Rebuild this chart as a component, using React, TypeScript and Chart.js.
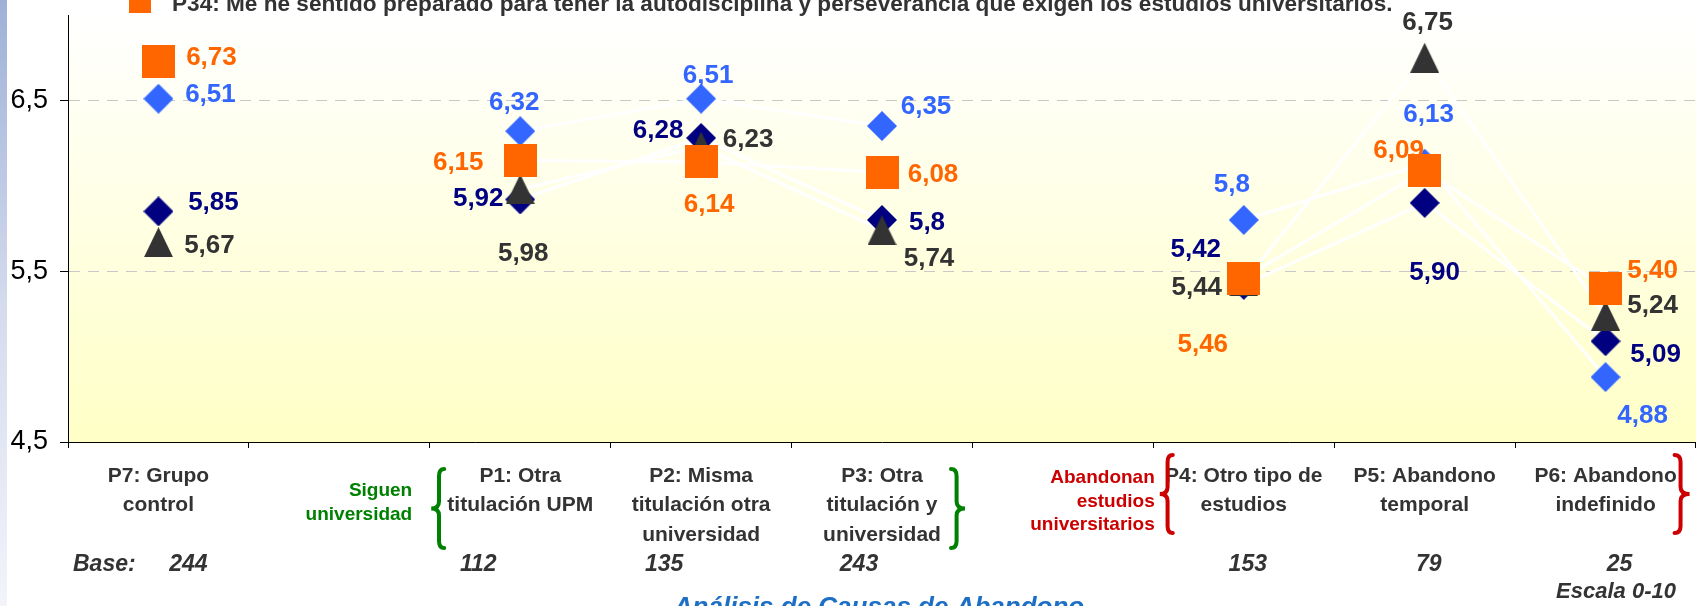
import React, { useEffect, useRef } from 'react';
import { Chart, registerables } from 'chart.js';

Chart.register(...registerables);

const FONT = '"Liberation Sans", Arial, sans-serif';

// ---------------- data ----------------
const categories: string[][] = [
  ['P7: Grupo', 'control'],
  [''],
  ['P1: Otra', 'titulación UPM'],
  ['P2: Misma', 'titulación otra', 'universidad'],
  ['P3: Otra', 'titulación y', 'universidad'],
  [''],
  ['P4: Otro tipo de', 'estudios'],
  ['P5: Abandono', 'temporal'],
  ['P6: Abandono', 'indefinido'],
];
const baseLabel = 'Base:';
const baseCounts = ['244', '', '112', '135', '243', '', '153', '79', '25'];
const yTickValues = [4.5, 5.5, 6.5];

const valuesBlue = [6.51, null, 6.32, 6.51, 6.35, null, 5.8, 6.13, 4.88];
const valuesNavy = [5.85, null, 5.92, 6.28, 5.8, null, 5.42, 5.9, 5.09];
const valuesGray = [5.67, null, 5.98, 6.23, 5.74, null, 5.44, 6.75, 5.24];
const valuesOrange = [6.73, null, 6.15, 6.14, 6.08, null, 5.46, 6.09, 5.4];

const textBlue = ['6,51', '', '6,32', '6,51', '6,35', '', '5,8', '6,13', '4,88'];
const textNavy = ['5,85', '', '5,92', '6,28', '5,8', '', '5,42', '5,90', '5,09'];
const textGray = ['5,67', '', '5,98', '6,23', '5,74', '', '5,44', '6,75', '5,24'];
const textOrange = ['6,73', '', '6,15', '6,14', '6,08', '', '5,46', '6,09', '5,40'];

const legendText =
  'P34: Me he sentido preparado para tener la autodisciplina y perseverancia que exigen los estudios universitarios.';
const titleText = 'Análisis de Causas de Abandono';
const scaleNote = 'Escala 0-10';
const groupSiguen = ['Siguen', 'universidad'];
const groupAbandonan = ['Abandonan', 'estudios', 'universitarios'];

// ---------------- layout (label offsets relative to each point) ----------------
const offsBlue = [[52, -6], null, [-6, -30], [7, -25], [44, -21], null, [-12, -37], [4, -51], [37, 37]];
const offsNavy = [[55, -11], null, [-42, -3], [-43, -9], [45, 1], null, [-48, -37], [10, 68], [50, 11]];
const offsGray = [[51, 2], null, [3, 62], [47, -9], [47, 26], null, [-47, 4], [3, -37], [47, -12]];
const offsOrange = [[53, -5], null, [-62, 1], [8, 41], [51, 1], null, [-41, 65], [-26, -22], [47, -20]];
const baseOffsets = [30, 0, -42, -37, -23, 0, 4, 4, 14];

const series = [
  { values: valuesOrange, texts: textOrange, offs: offsOrange, color: '#FF6600', shape: 'square', w: 33, h: 33, order: 1 },
  { values: valuesGray, texts: textGray, offs: offsGray, color: '#333333', shape: 'triangle', w: 29, h: 30, order: 2 },
  { values: valuesNavy, texts: textNavy, offs: offsNavy, color: '#000080', shape: 'diamond', w: 30, h: 30, order: 3 },
  { values: valuesBlue, texts: textBlue, offs: offsBlue, color: '#3366FF', shape: 'diamond', w: 30, h: 30, order: 4 },
];

function makeMarker(shape: string, color: string, w: number, h: number) {
  const c = document.createElement('canvas');
  c.width = w;
  c.height = h;
  const ctx = c.getContext('2d')!;
  ctx.fillStyle = color;
  ctx.beginPath();
  if (shape === 'square') {
    ctx.rect(0, 0, w, h);
  } else if (shape === 'diamond') {
    ctx.moveTo(w / 2, 0);
    ctx.lineTo(w, h / 2);
    ctx.lineTo(w / 2, h);
    ctx.lineTo(0, h / 2);
    ctx.closePath();
  } else {
    ctx.moveTo(w / 2, 0);
    ctx.lineTo(w, h);
    ctx.lineTo(0, h);
    ctx.closePath();
  }
  ctx.fill();
  return c;
}

function drawBrace(ctx: CanvasRenderingContext2D, xTip: number, xOuter: number, y0: number, y1: number, color: string) {
  const xm = xTip + (xOuter - xTip) * 0.6;
  const ym = (y0 + y1) / 2;
  const r = 7;
  ctx.save();
  ctx.strokeStyle = color;
  ctx.lineWidth = 4;
  ctx.lineCap = 'round';
  ctx.beginPath();
  ctx.moveTo(xOuter, y0);
  ctx.quadraticCurveTo(xm, y0, xm, y0 + r);
  ctx.lineTo(xm, ym - r);
  ctx.quadraticCurveTo(xm, ym, xTip, ym);
  ctx.quadraticCurveTo(xm, ym, xm, ym + r);
  ctx.lineTo(xm, y1 - r);
  ctx.quadraticCurveTo(xm, y1, xOuter, y1);
  ctx.stroke();
  ctx.restore();
}

const bgPlugin = {
  id: 'bg',
  beforeDraw(chart: any) {
    const { ctx, chartArea: a, width, height } = chart;
    ctx.save();
    ctx.fillStyle = '#FFFFFF';
    ctx.fillRect(0, 0, width, height);
    const s = ctx.createLinearGradient(0, 0, 0, height);
    s.addColorStop(0, '#9DB1D7');
    s.addColorStop(0.5, '#D3DBEC');
    s.addColorStop(1, '#F2F4FA');
    ctx.fillStyle = s;
    ctx.fillRect(0, 0, 7, height);
    const g = ctx.createLinearGradient(0, a.top, 0, a.bottom);
    g.addColorStop(0, '#FFFFFF');
    g.addColorStop(1, '#FFFFC6');
    ctx.fillStyle = g;
    ctx.fillRect(a.left, a.top, a.right - a.left, a.bottom - a.top);
    ctx.restore();
  },
};

const labelPlugin = {
  id: 'pointLabels',
  afterDatasetsDraw(chart: any) {
    const ctx = chart.ctx;
    ctx.save();
    ctx.font = `bold 26px ${FONT}`;
    ctx.textAlign = 'center';
    ctx.textBaseline = 'alphabetic';
    series.forEach((s, k) => {
      const meta = chart.getDatasetMeta(series.length + k);
      s.values.forEach((v, j) => {
        const o = s.offs[j];
        if (v === null || !o) return;
        const pt = meta.data[j];
        ctx.fillStyle = s.color;
        ctx.fillText(s.texts[j], pt.x + o[0], pt.y + o[1] + 9.3);
      });
    });
    ctx.restore();
  },
};

const decoPlugin = {
  id: 'deco',
  afterDraw(chart: any) {
    const ctx = chart.ctx;
    const xs = chart.scales.x;
    const cx = (i: number) => xs.getPixelForValue(i);
    ctx.save();

    // legend line (cut at top)
    ctx.fillStyle = '#FF6600';
    ctx.fillRect(129, -9, 22, 22);
    ctx.fillStyle = '#333333';
    ctx.font = `bold 22.6px ${FONT}`;
    ctx.textAlign = 'left';
    ctx.textBaseline = 'alphabetic';
    ctx.fillText(legendText, 172, 11);

    // group labels
    ctx.font = `bold 19px ${FONT}`;
    ctx.textAlign = 'right';
    ctx.textBaseline = 'middle';
    ctx.fillStyle = '#008000';
    groupSiguen.forEach((t, i) => ctx.fillText(t, cx(2) - 108, 491 + i * 24));
    ctx.fillStyle = '#CC0000';
    groupAbandonan.forEach((t, i) => ctx.fillText(t, cx(6) - 89, 478 + i * 23.5));

    // braces
    drawBrace(ctx, cx(2) - 89, cx(2) - 76, 469, 548, '#008000');
    drawBrace(ctx, cx(4) + 83, cx(4) + 69, 469, 548, '#008000');
    drawBrace(ctx, cx(6) - 84, cx(6) - 71, 455, 533, '#CC0000');
    drawBrace(ctx, cx(8) + 84, cx(8) + 69, 455, 533, '#CC0000');

    // base row
    ctx.fillStyle = '#333333';
    ctx.font = `italic bold 23px ${FONT}`;
    ctx.textAlign = 'left';
    ctx.fillText(baseLabel, 73, 565);
    ctx.textAlign = 'center';
    baseCounts.forEach((t, i) => {
      if (t) ctx.fillText(t, cx(i) + baseOffsets[i], 565);
    });

    // scale note
    ctx.font = `italic bold 22px ${FONT}`;
    ctx.fillText(scaleNote, 1616, 592);

    // title (cut at bottom)
    ctx.fillStyle = '#1C6FC4';
    ctx.font = `italic bold 26px ${FONT}`;
    ctx.textBaseline = 'alphabetic';
    ctx.fillText(titleText, 879, 615);

    ctx.restore();
  },
};

export default function App() {
  const ref = useRef<HTMLCanvasElement>(null);

  useEffect(() => {
    const canvas = ref.current!;
    const lineSets = series.map((s) => ({
      data: s.values,
      borderColor: '#FFFFFF',
      borderWidth: 3,
      pointRadius: 0,
      pointHoverRadius: 0,
      fill: false,
      spanGaps: false,
      tension: 0,
      order: 10,
    }));
    const pointSets = series.map((s) => ({
      data: s.values,
      showLine: false,
      pointStyle: makeMarker(s.shape, s.color, s.w, s.h),
      pointRadius: 15,
      pointHoverRadius: 15,
      backgroundColor: s.color,
      borderColor: s.color,
      order: s.order,
    }));

    const chart = new Chart(canvas, {
      type: 'line',
      data: { labels: categories as any, datasets: [...lineSets, ...pointSets] as any },
      options: {
        responsive: false,
        animation: false,
        events: [],
        layout: { autoPadding: false, padding: { top: 15, left: 0, right: 0, bottom: 0 } },
        plugins: { legend: { display: false }, tooltip: { enabled: false }, title: { display: false } },
        scales: {
          x: {
            type: 'category',
            offset: true,
            grid: { offset: true, drawOnChartArea: false, drawTicks: true, tickLength: 6, color: '#000', tickColor: '#000' },
            border: { display: true, color: '#000', width: 1 },
            ticks: {
              autoSkip: false,
              maxRotation: 0,
              minRotation: 0,
              padding: 13,
              color: '#333333',
              font: { family: FONT, size: 21, weight: 'bold', lineHeight: 1.405 },
            },
            afterFit: (s: any) => {
              s.height = 164;
              s.paddingLeft = 0;
              s.paddingRight = 0;
            },
          },
          y: {
            min: 4.5,
            max: 7,
            afterBuildTicks: (s: any) => {
              s.ticks = yTickValues.map((v) => ({ value: v }));
            },
            afterFit: (s: any) => {
              s.width = 68;
              s.paddingTop = 0;
              s.paddingBottom = 0;
            },
            grid: {
              color: (c: any) => (c.tick && c.tick.value === 4.5 ? 'rgba(0,0,0,0)' : '#C8C8C8'),
              lineWidth: 1,
              drawTicks: true,
              tickLength: 8,
              tickColor: '#000',
              tickBorderDash: [],
            },
            border: { display: true, color: '#000', width: 1, dash: [11, 8] },
            ticks: {
              padding: 12,
              color: '#000',
              font: { family: FONT, size: 27, lineHeight: 1 },
              callback: (v: any) => String(v).replace('.', ','),
            },
          },
        },
      } as any,
      plugins: [bgPlugin, labelPlugin, decoPlugin],
    });
    return () => chart.destroy();
  }, []);

  return (
    <div style={{ position: 'fixed', left: 0, top: 0, width: 1696, height: 606, background: '#fff' }}>
      <canvas ref={ref} width={1696} height={606} style={{ display: 'block', width: 1696, height: 606 }} />
    </div>
  );
}
